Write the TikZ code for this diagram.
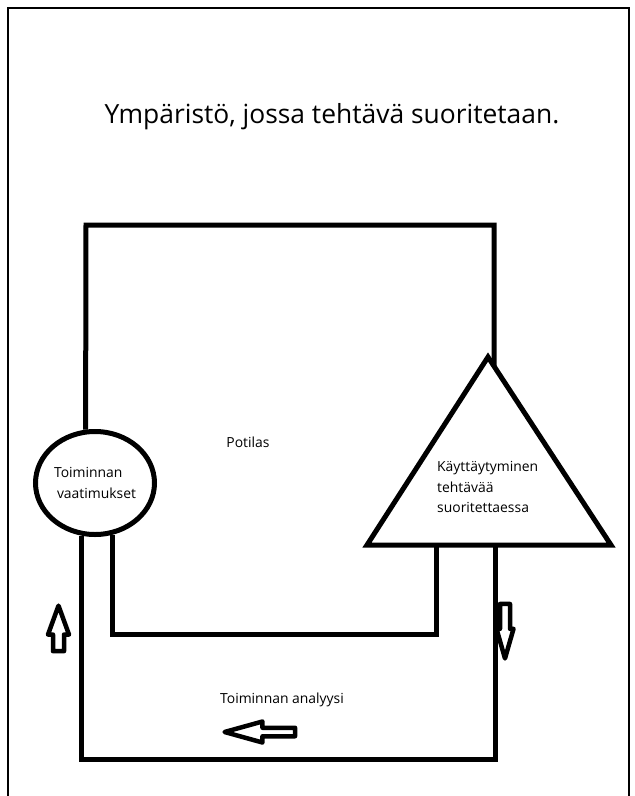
\documentclass[tikz,border=0pt]{standalone}
\usepackage{fontspec}
\setmainfont{Open Sans}
\usetikzlibrary{shapes.geometric, shapes.arrows, calc}

\begin{document}
\begin{tikzpicture}[x=1pt, y=-1pt,
    wire/.style={line width=5pt},
    txt/.style={font=\fontsize{13.9}{20.5}\selectfont, inner sep=0pt},
    flow/.style={single arrow, draw, line width=4.5pt, line join=round,
                 fill=white, inner xsep=0pt, single arrow head indent=0pt}]
  \useasboundingbox (0,0) rectangle (635,796);

  % Page frame
  \draw[line width=2pt] (7.5,796) -- (7.5,7.5) -- (629,7.5) -- (629,796);

  % Title
  \node[font=\fontsize{26.4}{30}\selectfont] (title) at (332,117)
    {Ympäristö, jossa tehtävä suoritetaan.};

  % Requirements
  \node[draw, ellipse, line width=5pt, minimum width=119pt, minimum height=103pt,
        txt, align=left] (req) at (95,483) {Toiminnan\\\hspace*{3pt}vaatimukset};

  % Behaviour triangle
  \coordinate (apx) at (488,357);
  \coordinate (bl) at (367,545);
  \coordinate (br) at (611,545);
  \draw[wire] (apx) -- (bl) -- (br) -- cycle;
  \node[txt, align=left, anchor=west] (behav) at (437,487)
    {Käyttäytyminen\\tehtävää\\suoritettaessa};

  \node[txt] (pat) at (248,442) {Potilas};
  \node[txt] (ana) at (282,700) {Toiminnan analyysi};

  % Loops
  \coordinate (tl) at (86,225);
  \coordinate (tr) at (494,225);
  \draw[wire] (req.100) -- (tl) -- (tr) -- ($(apx)!0.05!(br)$);
  \coordinate (ibr) at (436,634);
  \draw[wire] (req.289) |- (ibr) -- (ibr |- bl);
  \coordinate (obr) at (495,759);
  \draw[wire] (req.256) |- (obr) -- (obr |- br);

  % Flow arrows
  \node[flow, rotate=90, inner ysep=3.25pt, single arrow head extend=5pt,
        minimum height=45.5pt, single arrow tip angle=40] (up) at (58.5,636) {};
  \node[flow, rotate=-90, inner ysep=2.75pt, single arrow head extend=3.5pt,
        minimum height=54.5pt, single arrow tip angle=32] (down) at (505,622.5) {};
  \node[flow, rotate=180, inner ysep=2pt, single arrow head extend=6.25pt,
        minimum height=70.5pt, single arrow tip angle=31] (back) at (267.5,732) {};
\end{tikzpicture}
\end{document}
